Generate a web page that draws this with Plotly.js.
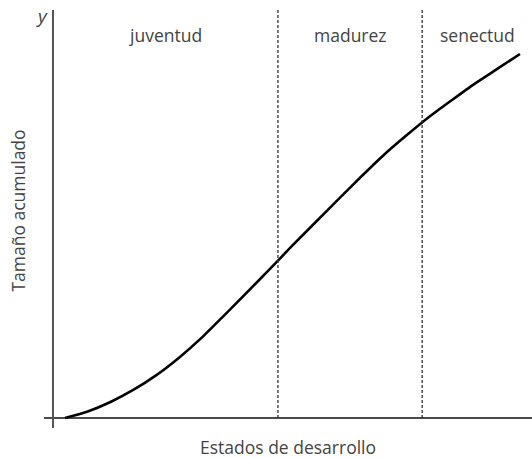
<!DOCTYPE html>
<html>
<head>
<meta charset="utf-8">
<script src="https://cdn.plot.ly/plotly-3.0.1.min.js"></script>
<style>
  html, body { margin: 0; padding: 0; background: #fff; }
  #chart { width: 532px; height: 458px; }
</style>
</head>
<body>
<div id="chart"></div>
<script>
// Curva de crecimiento acumulado por estados de desarrollo
const stageX = [0, 0.5, 1, 1.5, 2, 2.5, 3, 3.5, 4, 4.5, 5, 5.5, 6, 6.5, 7, 7.5, 8, 8.5, 9, 9.5, 10];
const sizeY = [0, 0.18, 0.44, 0.77, 1.17, 1.65, 2.20, 2.82, 3.45, 4.09, 4.74, 5.37, 6.00, 6.62,
               7.22, 7.76, 8.27, 8.73, 9.18, 9.59, 10.0];

// limites de cada estado (eje y, divisiones, borde derecho)
const stageBounds = [-0.264, 4.68, 7.85, 10.264];
const stageNames = ['juventud', 'madurez', 'senectud'];

const xRange = [-0.4615, 10.264];
const yRange = [-0.2747, 11.209];

const textFont = { family: 'Open Sans, sans-serif', size: 17.5, color: '#444' };

const trace = {
    x: stageX,
    y: sizeY,
    type: 'scatter',
    mode: 'lines',
    line: { color: '#000', width: 2.6, shape: 'spline', smoothing: 0.6 },
    hoverinfo: 'skip'
};

// lineas divisorias discontinuas (desde el eje x hasta arriba)
const shapes = stageBounds.slice(1, 3).map(b => ({
    type: 'line', xref: 'x', yref: 'y',
    x0: b, x1: b, y0: 0, y1: yRange[1],
    line: { color: '#333', width: 1.3, dash: '3px,2px' }
}));

// ejes dibujados a mano (se cruzan cerca del origen)
shapes.push({
    type: 'line', xref: 'paper', yref: 'y',
    x0: 0, x1: 1, y0: 0, y1: 0,
    line: { color: '#111', width: 1.5 }
});
shapes.push({
    type: 'line', xref: 'x', yref: 'paper',
    x0: stageBounds[0], x1: stageBounds[0], y0: 0, y1: 1,
    line: { color: '#555', width: 2 }
});

const annotations = stageNames.map((name, i) => ({
    x: (stageBounds[i] + stageBounds[i + 1]) / 2,
    y: 10.53,
    xref: 'x', yref: 'y',
    text: name,
    showarrow: false,
    font: textFont
}));

annotations.push({
    x: stageBounds[0], y: 1,
    xref: 'x', yref: 'paper',
    xanchor: 'right', yanchor: 'top',
    xshift: -3, yshift: 9,
    text: '<i>y</i>',
    showarrow: false,
    font: { family: 'Open Sans, sans-serif', size: 19, color: '#444' }
});

// titulos de los ejes
annotations.push({
    x: 0.5, y: 0, xref: 'paper', yref: 'paper',
    xanchor: 'center', yanchor: 'middle', yshift: -19,
    text: 'Estados de desarrollo',
    showarrow: false, font: textFont
});
annotations.push({
    x: 0, y: 0.52, xref: 'paper', yref: 'paper',
    xanchor: 'center', yanchor: 'middle', xshift: -26,
    textangle: -90,
    text: 'Tamaño acumulado',
    showarrow: false, font: textFont
});

const layout = {
    width: 532,
    height: 458,
    margin: { l: 44, r: 0, t: 10, b: 30 },
    paper_bgcolor: '#fff',
    plot_bgcolor: '#fff',
    showlegend: false,
    xaxis: {
        range: xRange,
        showgrid: false, zeroline: false, showline: false,
        showticklabels: false, ticks: ''
    },
    yaxis: {
        range: yRange,
        showgrid: false, zeroline: false, showline: false,
        showticklabels: false, ticks: ''
    },
    shapes: shapes,
    annotations: annotations
};

Plotly.newPlot('chart', [trace], layout, { displayModeBar: false, staticPlot: true });
</script>
</body>
</html>
